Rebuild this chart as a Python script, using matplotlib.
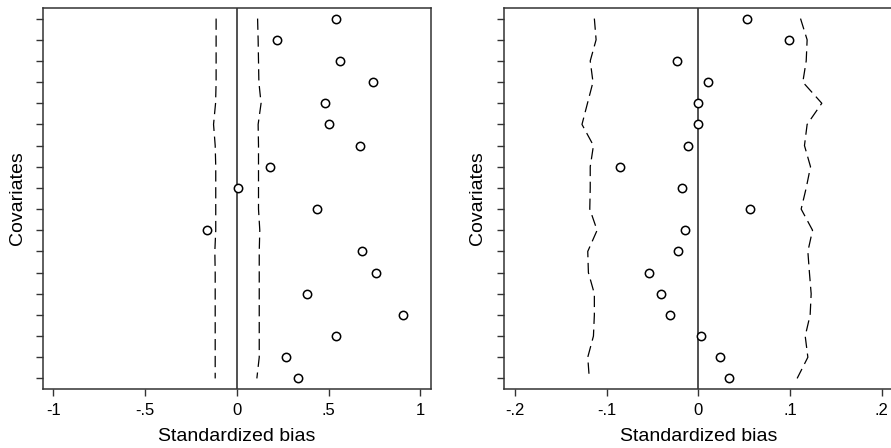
import numpy as np
import matplotlib.pyplot as plt

plt.rcParams["font.family"] = ["Liberation Sans", "DejaVu Sans"]

# rows listed from top to bottom
rows = np.arange(18, 0, -1)

bias_left = [0.539, 0.218, 0.561, 0.742, 0.483, 0.503, 0.673, 0.181, 0.004,
             0.437, -0.163, 0.684, 0.760, 0.381, 0.907, 0.541, 0.270, 0.332]
lower_left = [-0.113, -0.113, -0.113, -0.113, -0.116, -0.127, -0.118, -0.115, -0.115,
              -0.115, -0.115, -0.120, -0.118, -0.118, -0.118, -0.118, -0.118, -0.118]
upper_left = [0.113, 0.116, 0.118, 0.120, 0.132, 0.116, 0.118, 0.118, 0.118,
              0.118, 0.125, 0.122, 0.122, 0.122, 0.122, 0.122, 0.122, 0.109]

bias_right = [0.0531, 0.0989, -0.0229, 0.0105, -0.0004, 0.0, -0.0113, -0.0855, -0.0182,
              0.0564, -0.0145, -0.0222, -0.0535, -0.0407, -0.0309, 0.0025, 0.0240, 0.0331]
lower_right = [-0.1135, -0.1116, -0.118, -0.115, -0.121, -0.127, -0.1145, -0.118, -0.118,
               -0.1185, -0.1105, -0.1207, -0.120, -0.1135, -0.1135, -0.1145, -0.1207, -0.119]
upper_right = [0.1113, 0.1185, 0.1175, 0.1138, 0.1345, 0.1185, 0.1156, 0.1222, 0.1175,
               0.112, 0.1244, 0.1193, 0.121, 0.1229, 0.1218, 0.1164, 0.1193, 0.1076]

ticks_left = [-1, -0.5, 0, 0.5, 1]
labels_left = ["-1", "-.5", "0", ".5", "1"]
ticks_right = [-0.2, -0.1, 0, 0.1, 0.2]
labels_right = ["-.2", "-.1", "0", ".1", ".2"]

fig = plt.figure(figsize=(8.91, 4.48), dpi=100)
ax1 = fig.add_axes([42.7 / 891, 1 - 389 / 448, 388.3 / 891, 381 / 448])
ax2 = fig.add_axes([504.3 / 891, 1 - 389 / 448, 388.3 / 891, 381 / 448])


def draw_panel(ax, bias, lower, upper, ticks, labels, lim, ylab_x):
    ax.axvline(0, color="#333333", lw=1.2, zorder=1)
    ax.plot(lower, rows, color="black", lw=0.9, dashes=(9, 4.5))
    ax.plot(upper, rows, color="black", lw=0.9, dashes=(9, 4.5))
    ax.plot(bias, rows, "o", mfc="white", mec="black", ms=6, mew=1.1, zorder=3)
    ax.set_xlim(-lim, lim)
    ax.set_ylim(0.5, 18.5)
    ax.set_xticks(ticks)
    ax.set_xticklabels(labels, fontsize=12)
    ax.set_yticks(rows)
    ax.set_yticklabels([])
    ax.tick_params(direction="out", length=5, width=1, color="#333333", pad=5)
    ax.set_xlabel("Standardized bias", fontsize=14, va="center")
    ax.xaxis.set_label_coords(0.5, -0.124)
    ax.set_ylabel("Covariates", fontsize=14, va="center")
    ax.yaxis.set_label_coords(ylab_x, 0.5)
    for s in ax.spines.values():
        s.set_color("#333333")
        s.set_linewidth(1.1)


draw_panel(ax1, bias_left, lower_left, upper_left, ticks_left, labels_left, 1.058, -0.064)
draw_panel(ax2, bias_right, lower_right, upper_right, ticks_right, labels_right, 0.2117, -0.068)

fig.savefig("out.png", dpi=100)
